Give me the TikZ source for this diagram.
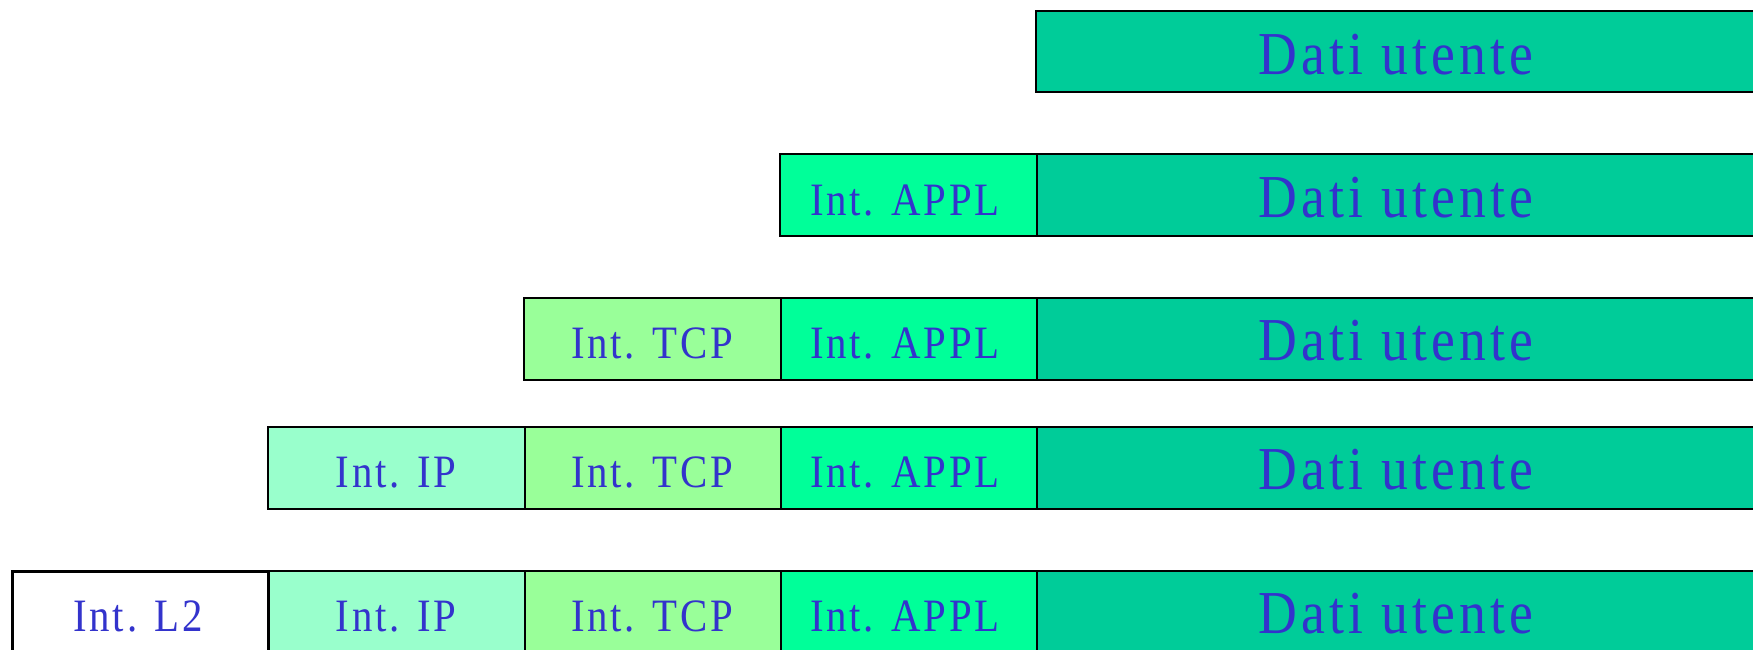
\documentclass[tikz,border=0pt]{standalone}
\usepackage{fontspec}
\setmainfont{Liberation Serif}
\newfontfamily\bigfont[FakeStretch=0.88, LetterSpace=7]{Liberation Serif}
\newfontfamily\labfont[FakeStretch=0.88, LetterSpace=6]{Liberation Serif}
\definecolor{txtblue}{HTML}{3333CC}
\definecolor{datic}{HTML}{00CC99}
\definecolor{applc}{HTML}{00FF99}
\definecolor{tcpc}{HTML}{99FF99}
\definecolor{ipc}{HTML}{99FFCC}
\tikzset{
  x=0.5pt, y=-0.5pt,
  cellbox/.style={draw=black, line width=1pt},
  l2box/.style={draw=black, line width=1.5pt, fill=white},
  bigtxt/.style={anchor=base, inner sep=0pt, text=txtblue, font=\bigfont\fontsize{30.5pt}{36pt}\selectfont},
  smalltxt/.style={anchor=base, inner sep=0pt, text=txtblue, font=\labfont\fontsize{23.2pt}{27pt}\selectfont},
}
\begin{document}
\begin{tikzpicture}
\useasboundingbox (0,0) rectangle (1753,649);
% Row 1
\path[cellbox, fill=datic] (1036,11) rectangle (1765,92);
\node[bigtxt] (d1) at (1396,74) {Dati utente};
% Row 2
\path[cellbox, fill=applc] (780,154) rectangle (1037,236);
\path[cellbox, fill=datic] (1037,154) rectangle (1765,236);
\node[smalltxt] (a2) at (905,215) {Int. APPL};
\node[bigtxt] (d2) at (1396,217) {Dati utente};
% Row 3
\path[cellbox, fill=tcpc] (524,298) rectangle (781,380);
\path[cellbox, fill=applc] (781,298) rectangle (1037,380);
\path[cellbox, fill=datic] (1037,298) rectangle (1765,380);
\node[smalltxt] (t3) at (652,358) {Int. TCP};
\node[smalltxt] (a3) at (905,358) {Int. APPL};
\node[bigtxt] (d3) at (1396,360) {Dati utente};
% Row 4
\path[cellbox, fill=ipc] (268,427) rectangle (525,509);
\path[cellbox, fill=tcpc] (525,427) rectangle (781,509);
\path[cellbox, fill=applc] (781,427) rectangle (1037,509);
\path[cellbox, fill=datic] (1037,427) rectangle (1765,509);
\node[smalltxt] (i4) at (396,487) {Int. IP};
\node[smalltxt] (t4) at (652,487) {Int. TCP};
\node[smalltxt] (a4) at (905,487) {Int. APPL};
\node[bigtxt] (d4) at (1396,489) {Dati utente};
% Row 5
\path[l2box] (12,571) rectangle (268,665);
\path[cellbox, fill=ipc] (269,571) rectangle (525,665);
\path[cellbox, fill=tcpc] (525,571) rectangle (781,665);
\path[cellbox, fill=applc] (781,571) rectangle (1037,665);
\path[cellbox, fill=datic] (1037,571) rectangle (1765,665);
\node[smalltxt] (l5) at (138,631) {Int. L2};
\node[smalltxt] (i5) at (396,631) {Int. IP};
\node[smalltxt] (t5) at (652,631) {Int. TCP};
\node[smalltxt] (a5) at (905,631) {Int. APPL};
\node[bigtxt] (d5) at (1396,633) {Dati utente};
\end{tikzpicture}
\end{document}
